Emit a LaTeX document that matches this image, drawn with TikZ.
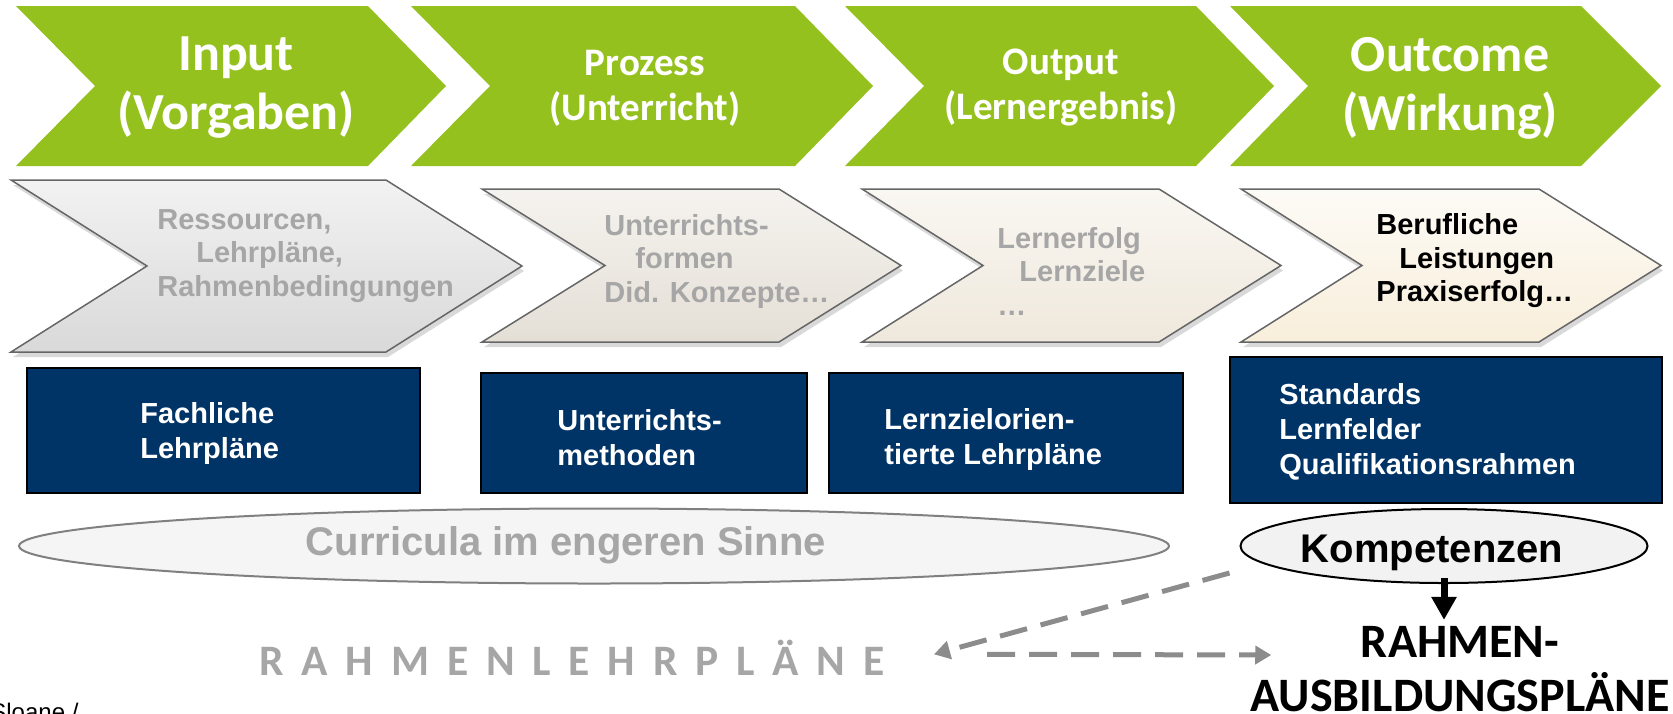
\documentclass[tikz,border=0pt]{standalone}
\usepackage{fontspec}
\setmainfont{Liberation Sans}
\newfontfamily\calibri{Carlito}
\usepackage{xcolor}
\definecolor{hdgreen}{HTML}{95C11F}
\definecolor{navy}{HTML}{003366}
\definecolor{txtgray}{HTML}{A6A6A6}
\definecolor{dashgray}{HTML}{8C8C8C}
\definecolor{chevAtop}{HTML}{F2F2F2}
\definecolor{chevAbot}{HTML}{D9D9D9}
\definecolor{chevBtop}{HTML}{F5F3EF}
\definecolor{chevBbot}{HTML}{E4DFD6}
\definecolor{chevCtop}{HTML}{F9F7F2}
\definecolor{chevCbot}{HTML}{EFE8DC}
\definecolor{chevDtop}{HTML}{FDFBF6}
\definecolor{chevDbot}{HTML}{F8EEDB}
\usetikzlibrary{arrows.meta}
\usetikzlibrary{shapes.geometric}
\usetikzlibrary{shadows}
\usetikzlibrary{positioning}

\begin{document}
\begin{tikzpicture}[x=0.5pt,y=-0.5pt,
    every node/.style={inner sep=0pt},
    hdbig/.style={text=white,align=center,font=\calibri\bfseries\fontsize{26}{29.5}\selectfont},
    hdsmall/.style={text=white,align=center,font=\calibri\bfseries\fontsize{19.5}{22.5}\selectfont},
    chevtext/.style={align=left,anchor=west,text=txtgray,font=\bfseries\fontsize{14.5}{16.75}\selectfont},
    boxtext/.style={align=left,anchor=west,text=white,font=\bfseries\fontsize{14.5}{17.5}\selectfont},
    chevron/.style={draw=gray!80!black,line width=0.75pt,drop shadow={opacity=0.3,shadow xshift=1pt,shadow yshift=-2.5pt}},
    navybox/.style={fill=navy,draw=black,line width=1pt},
    dasharrow/.style={dashgray,line width=2.5pt,dash pattern=on 14pt off 7pt,-{Triangle[width=9pt,length=8pt]}}]
\useasboundingbox (0,0) rectangle (1673,713);

% green phase arrows
\foreach \l/\n/\r/\t in {16/95/368/446,411/490/795/873,845/924/1196/1274,1230/1308/1581/1661}
  \fill[hdgreen] (\l,6) -- (\r,6) -- (\t,86) -- (\r,166) -- (\l,166) -- (\n,86) -- cycle;
\node[hdbig] (hdin) at (236,88) {Input\\(Vorgaben)};
\node[hdsmall] (hdproc) at (645,88) {Prozess\\(Unterricht)};
\node[hdsmall] (hdout) at (1061,88) {Output\\(Lernergebnis)};
\node[hdbig] (hdoutc) at (1450,88) {Outcome\\(Wirkung)};

% grey chevrons
\path[chevron,top color=chevAtop,bottom color=chevAbot] (11,180) -- (386,180) -- (522,266) -- (386,352) -- (11,352) -- (147,266) -- cycle;
\path[chevron,top color=chevBtop,bottom color=chevBbot] (482,189) -- (779,189) -- (901,265.5) -- (779,342) -- (482,342) -- (605,265.5) -- cycle;
\path[chevron,top color=chevCtop,bottom color=chevCbot] (862,189) -- (1159,189) -- (1281,265.5) -- (1159,342) -- (862,342) -- (983,265.5) -- cycle;
\path[chevron,top color=chevDtop,bottom color=chevDbot] (1241,189) -- (1539,189) -- (1661,265.5) -- (1539,342) -- (1241,342) -- (1362,265.5) -- cycle;
\node[chevtext] (res) at (157,256) {Ressourcen,\\\hspace*{19.5pt}Lehrpläne,\\Rahmenbedingungen};
\node[chevtext] (form) at (604,261) {Unterrichts-\\\hspace*{15.5pt}formen\\Did. Konzepte…};
\node[chevtext] (erfolg) at (997,271) {Lernerfolg\\\hspace*{11pt}Lernziele\\…};
\node[chevtext,text=black] (beruf) at (1376,261) {Berufliche\\\hspace*{11.5pt}Leistungen\\Praxiserfolg…};

% blue boxes
\filldraw[navybox] (27,368) rectangle (420,493);
\filldraw[navybox] (481,373) rectangle (807,493);
\filldraw[navybox] (829,373) rectangle (1183,493);
\filldraw[navybox] (1230,357) rectangle (1662,503);
\node[boxtext] (fach) at (140,433) {Fachliche\\Lehrpläne};
\node[boxtext] (meth) at (557,438) {Unterrichts-\\methoden};
\node[boxtext] (lzo) at (884,439) {Lernzielorien-\\tierte Lehrpläne};
\node[boxtext] (std) at (1279,432) {Standards\\Lernfelder\\Qualifikationsrahmen};

% ellipses
\node[ellipse,draw=gray,fill=gray!8,line width=1pt,minimum width=575pt,minimum height=37.5pt] (curr) at (594,546) {};
\node[text=txtgray,font=\bfseries\fontsize{20}{24}\selectfont] (currtxt) at (566,545) {Curricula im engeren Sinne};
\node[ellipse,draw=black,fill=gray!10,line width=1pt,minimum width=203.5pt,minimum height=37pt] (komp) at (1444,546) {};
\node[font=\bfseries\fontsize{20}{24}\selectfont] (komptxt) at (1432,553) {Kompetenzen};

% bottom row
\node[font=\calibri\bfseries\fontsize{21.75}{26}\selectfont,text=txtgray,anchor=base west] (rlp) at (259,675) {\spaceskip=0.41em R A H M E N L E H R P L Ä N E};
\node[font=\calibri\bfseries\fontsize{24}{27}\selectfont,align=center] (ausb) at (1460,669) {RAHMEN-\\AUSBILDUNGSPLÄNE};
\node[anchor=base west,font=\fontsize{12}{14}\selectfont] (src) at (-10,720) {Sloane /};

\draw[-{Triangle[width=12pt,length=11.5pt]},line width=3.5pt,shorten >=3pt] ([yshift=3pt]komp.south) -- (komp.south |- ausb.north);
\draw[dasharrow] ([shift={(-5pt,-13.5pt)}]komp.west) -- ([shift={(24.5pt,1.5pt)}]rlp.east);
\draw[dasharrow] ([shift={(51pt,1.5pt)}]rlp.east) -- ([shift={(10.5pt,7pt)}]ausb.west);
\end{tikzpicture}
\end{document}
